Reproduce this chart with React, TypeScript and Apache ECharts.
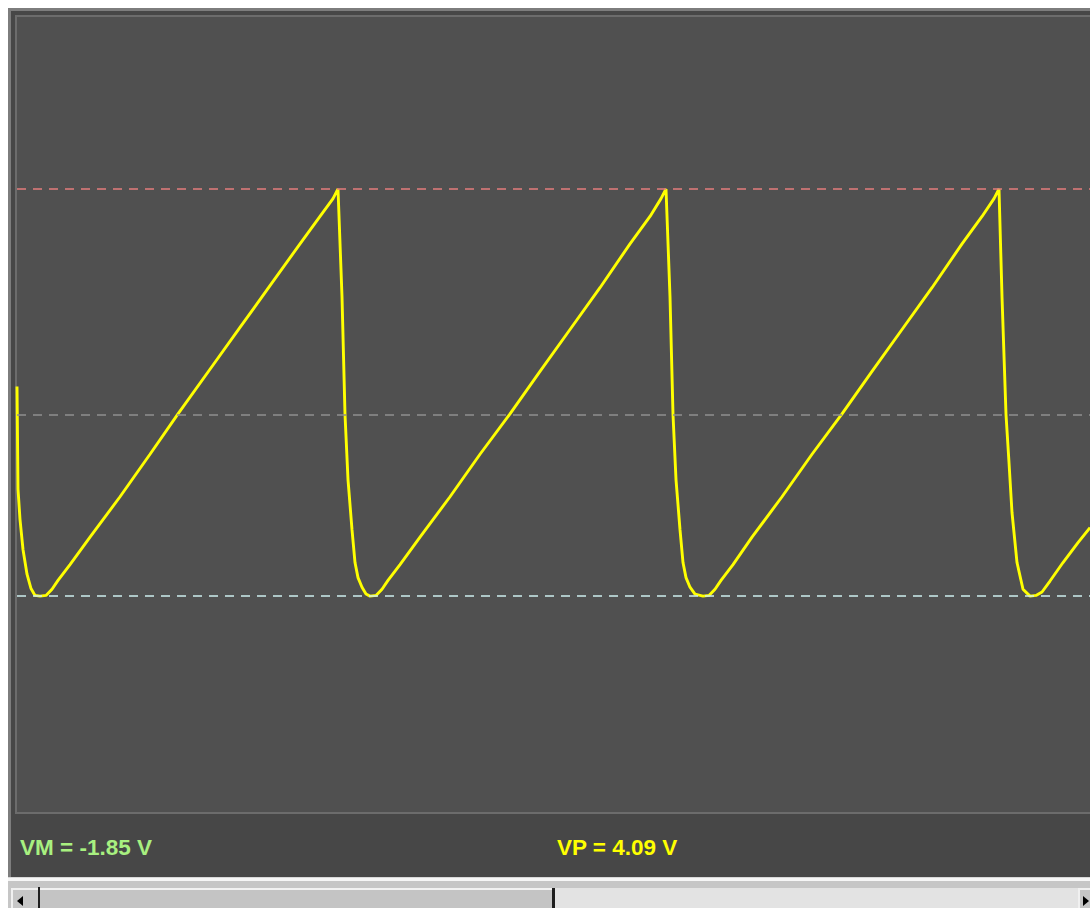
import React, { useEffect, useRef } from "react";
import * as echarts from "echarts";

// Captured trace: sample index along the screen and the voltage at that sample.
const SAMPLES = [
  0, 1, 3, 6, 10, 14, 18, 23, 29, 35, 41, 53, 73, 103, 133, 161, 193, 223, 253, 283, 303, 316, 321,
  325, 328, 331, 335, 338, 341, 345, 349, 353, 359, 365, 371, 383, 403, 433, 463, 493, 523, 553, 583, 613, 633, 644, 649,
  653, 656, 659, 663, 666, 669, 673, 678, 686, 692, 698, 704, 716, 735, 765, 795, 825, 855, 885, 915, 945, 965, 977, 982,
  985, 989, 992, 995, 1000, 1006, 1013, 1019, 1025, 1033, 1046, 1061, 1073,
];
const VOLTS = [
  1.21, -0.29, -0.73, -1.17, -1.53, -1.74, -1.84, -1.85, -1.84, -1.75, -1.62, -1.39, -0.99, -0.4, 0.22, 0.81, 1.46, 2.07, 2.68, 3.29, 3.69, 3.95, 4.09,
  2.52, 0.8, -0.15, -0.88, -1.36, -1.58, -1.72, -1.82, -1.85, -1.84, -1.75, -1.62, -1.39, -0.99, -0.4, 0.22, 0.81, 1.43, 2.04, 2.65, 3.29, 3.69, 3.95, 4.09,
  2.52, 0.8, -0.15, -0.88, -1.36, -1.58, -1.72, -1.82, -1.85, -1.84, -1.75, -1.62, -1.39, -0.99, -0.4, 0.22, 0.81, 1.43, 2.04, 2.65, 3.29, 3.69, 3.95, 4.09,
  2.52, 0.8, 0.1, -0.63, -1.36, -1.75, -1.85, -1.84, -1.79, -1.63, -1.36, -1.07, -0.85,
];

// Measured levels (volts)
const VM = -1.85;
const VP = 4.09;
const CENTER = 0.8;

// Screen range
const X_MAX = 1073;
const Y_MIN = -5;
const Y_MAX = 6.6;

const FONT = '"Liberation Sans", Arial, sans-serif';

export default function App() {
  const ref = useRef<HTMLDivElement>(null);

  useEffect(() => {
    if (!ref.current) return;
    const chart = echarts.init(ref.current, undefined, { renderer: "svg" });
    const trace = SAMPLES.map((s, i) => [s, VOLTS[i]]);

    const W = 1082;

    chart.setOption({
      animation: false,
      backgroundColor: "transparent",
      grid: {
        left: 9,
        top: 9,
        right: 0,
        bottom: 96,
        show: true,
        backgroundColor: "#505050",
        borderWidth: 0,
      },
      xAxis: {
        type: "value",
        min: 0,
        max: X_MAX,
        show: false,
      },
      yAxis: {
        type: "value",
        min: Y_MIN,
        max: Y_MAX,
        show: false,
      },
      graphic: [
        // panel body
        { type: "rect", z: -10, shape: { x: 0, y: 0, width: W, height: 869 }, style: { fill: "#474747" } },
        { type: "rect", z: -9, shape: { x: 0, y: 0, width: 3, height: 869 }, style: { fill: "#7d7d7d" } },
        { type: "rect", z: -9, shape: { x: 0, y: 0, width: W, height: 3 }, style: { fill: "#7d7d7d" } },
        // screen bezel
        { type: "rect", z: -9, shape: { x: 7, y: 7, width: W - 7, height: 2 }, style: { fill: "#6c6c6c" } },
        { type: "rect", z: -9, shape: { x: 7, y: 7, width: 2, height: 799 }, style: { fill: "#6c6c6c" } },
        { type: "rect", z: -9, shape: { x: 7, y: 804, width: W - 7, height: 2 }, style: { fill: "#6c6c6c" } },
        // readouts
        {
          type: "text",
          x: 12,
          y: 839,
          style: {
            text: `VM = ${VM.toFixed(2)} V`,
            fill: "#a8f080",
            font: `bold 22.5px ${FONT}`,
            verticalAlign: "middle",
          },
        },
        {
          type: "text",
          x: 549,
          y: 839,
          style: {
            text: `VP = ${VP.toFixed(2)} V`,
            fill: "#ffff00",
            font: `bold 22.5px ${FONT}`,
            verticalAlign: "middle",
          },
        },
        // horizontal scrollbar
        { type: "rect", shape: { x: 0, y: 869, width: W, height: 31 }, style: { fill: "#c6c6c6" } },
        { type: "rect", shape: { x: 0, y: 869, width: W, height: 1 }, style: { fill: "#d8d8d8" } },
        { type: "rect", shape: { x: 0, y: 870, width: W, height: 3 }, style: { fill: "#f6f6f6" } },
        { type: "rect", shape: { x: 3, y: 880, width: 27, height: 20 }, style: { fill: "#c6c6c6" } },
        { type: "rect", shape: { x: 3, y: 880, width: 27, height: 2 }, style: { fill: "#f0f0f0" } },
        { type: "rect", shape: { x: 3, y: 880, width: 2, height: 20 }, style: { fill: "#f0f0f0" } },
        { type: "polygon", shape: { points: [[9, 893], [15, 888], [15, 898]] }, style: { fill: "#000000" } },
        { type: "rect", shape: { x: 30, y: 879, width: 2, height: 21 }, style: { fill: "#1e1e1e" } },
        { type: "rect", shape: { x: 32, y: 880, width: 512, height: 20 }, style: { fill: "#c4c4c4" } },
        { type: "rect", shape: { x: 32, y: 880, width: 512, height: 2 }, style: { fill: "#f2f2f2" } },
        { type: "rect", shape: { x: 544, y: 880, width: 3, height: 20 }, style: { fill: "#1e1e1e" } },
        { type: "rect", shape: { x: 547, y: 880, width: 523, height: 20 }, style: { fill: "#e3e3e3" } },
        { type: "rect", shape: { x: 1070, y: 880, width: 12, height: 20 }, style: { fill: "#c6c6c6" } },
        { type: "rect", shape: { x: 1070, y: 880, width: 12, height: 2 }, style: { fill: "#f0f0f0" } },
        { type: "rect", shape: { x: 1070, y: 880, width: 2, height: 20 }, style: { fill: "#f0f0f0" } },
        { type: "polygon", shape: { points: [[1075, 888], [1081, 893], [1075, 898]] }, style: { fill: "#000000" } },
      ],
      series: [
        {
          name: "levels",
          type: "line",
          data: [],
          z: 1,
          silent: true,
          markLine: {
            silent: true,
            symbol: "none",
            label: { show: false },
            animation: false,
            data: [
              { yAxis: VP, lineStyle: { color: "#e47c7c", width: 1.7, type: [9, 7] } },
              { yAxis: CENTER, lineStyle: { color: "#8e8e8e", width: 1.6, type: [9, 7] } },
              { yAxis: VM, lineStyle: { color: "#cdeeee", width: 1.7, type: [9, 7] } },
            ],
          },
        },
        {
          name: "trace",
          type: "line",
          data: trace,
          z: 3,
          showSymbol: false,
          smooth: false,
          silent: true,
          lineStyle: { color: "#ffff00", width: 2.9 },
        },
      ],
    });

    return () => chart.dispose();
  }, []);

  return (
    <div
      ref={ref}
      style={{ position: "absolute", left: 8, top: 8, width: 1082, height: 900 }}
    />
  );
}
